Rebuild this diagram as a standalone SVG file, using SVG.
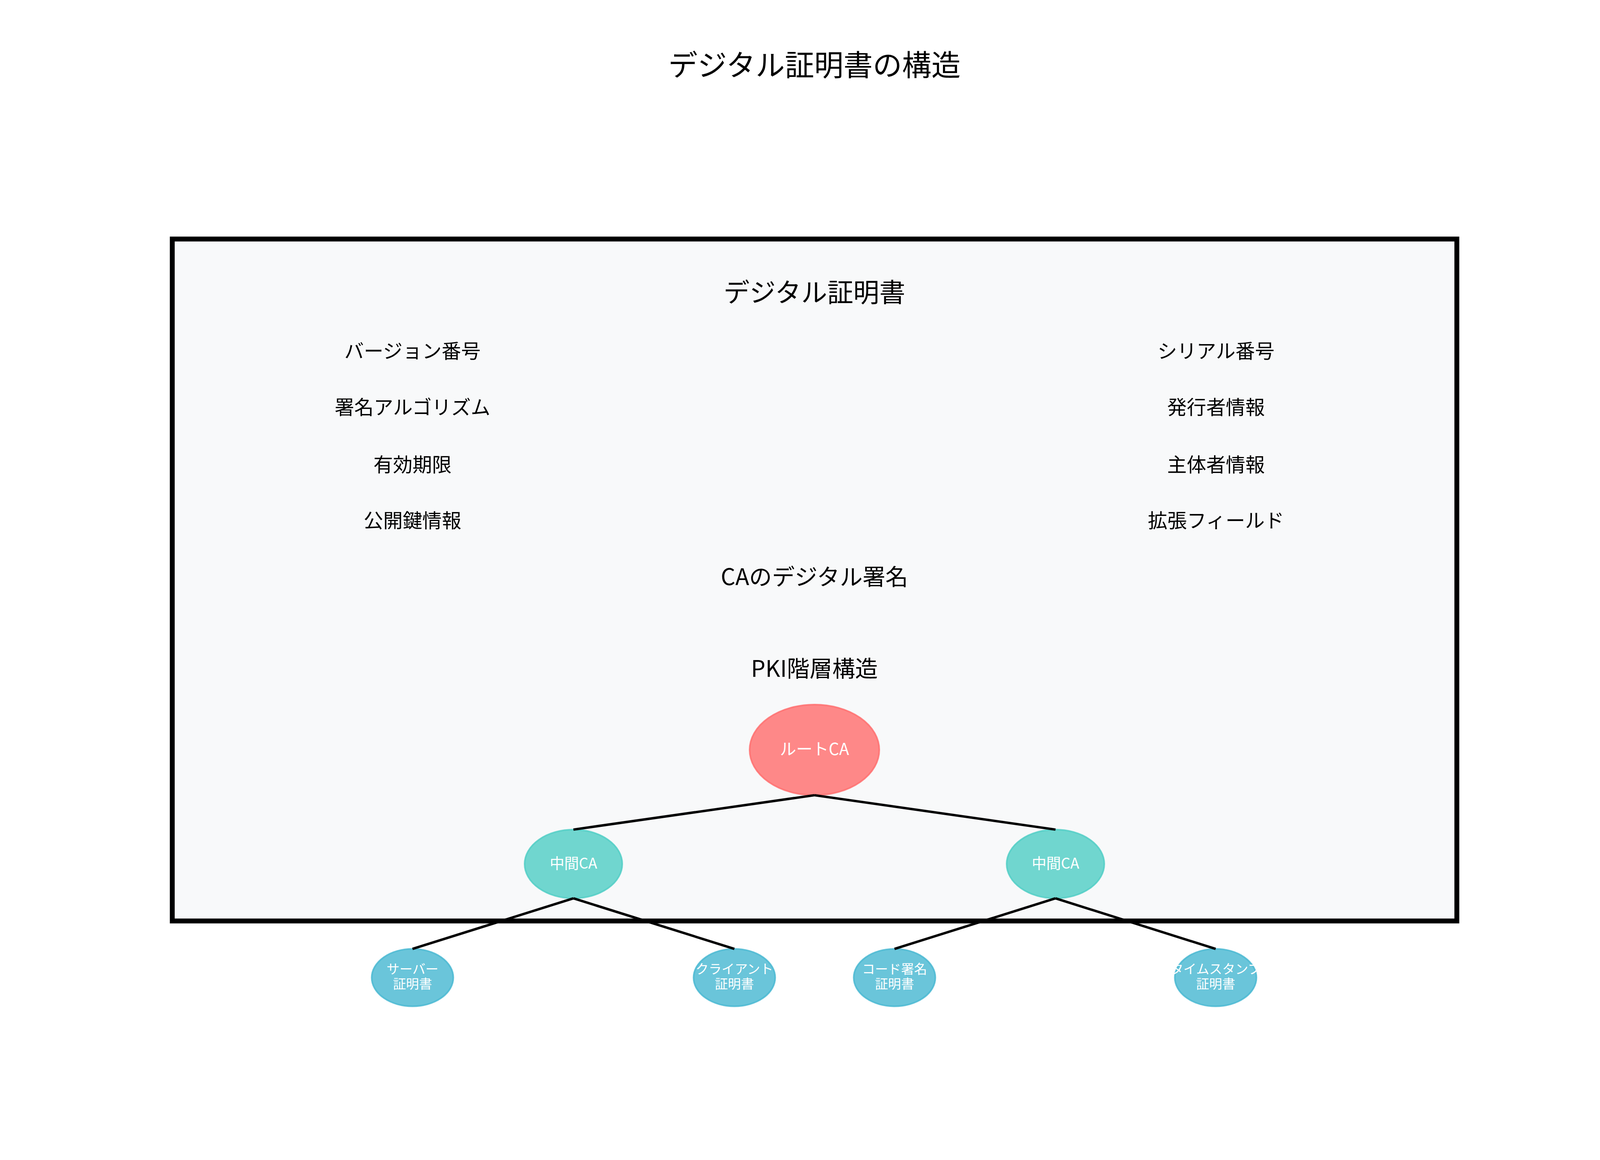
<svg xmlns="http://www.w3.org/2000/svg" width="4170" height="2970" viewBox="0 0 4170 2970">
<style>
text{font-family:"Noto Sans CJK JP","Noto Sans",sans-serif;text-anchor:middle;fill:#000}
.t18{font-size:75px}
.t16{font-size:66.7px}
.t14{font-size:58.3px}
.t12{font-size:50px}
.w10{font-size:41.7px;fill:#fff}
.w9{font-size:37.5px;fill:#fff}
.w8{font-size:33.3px;fill:#fff}
.root{fill:#FF6B6B;fill-opacity:0.8;stroke:#FF6B6B;stroke-opacity:0.8;stroke-width:4}
.mid{fill:#4ECDC4;fill-opacity:0.8;stroke:#4ECDC4;stroke-opacity:0.8;stroke-width:4}
.leaf{fill:#45B7D1;fill-opacity:0.8;stroke:#45B7D1;stroke-opacity:0.8;stroke-width:4}
.edge{stroke:#000;stroke-width:6.25;fill:none;stroke-linecap:butt}
</style>
<rect x="0" y="0" width="4170" height="2970" fill="#fff"/>
<g id="title"><text class="t18" x="2085" y="194">デジタル証明書の構造</text></g>
<g id="certificate">
<rect x="441" y="612" width="3288.5" height="1746" fill="#F8F9FA" stroke="#000" stroke-width="12.5"/>
<text class="t16" x="2085" y="773">デジタル証明書</text>
<text class="t12" x="1056" y="917">バージョン番号</text>
<text class="t12" x="1056" y="1061">署名アルゴリズム</text>
<text class="t12" x="1056" y="1208">有効期限</text>
<text class="t12" x="1056" y="1351">公開鍵情報</text>
<text class="t12" x="3113" y="917">シリアル番号</text>
<text class="t12" x="3113" y="1061">発行者情報</text>
<text class="t12" x="3113" y="1208">主体者情報</text>
<text class="t12" x="3113" y="1351">拡張フィールド</text>
<text class="t14" x="2085" y="1498">CAのデジタル署名</text>
<text class="t14" x="2085" y="1733">PKI階層構造</text>
</g>
<g id="root-ca"><ellipse class="root" cx="2085" cy="1920" rx="166" ry="116"/><text class="w10" x="2085" y="1933">ルートCA</text></g>
<g id="mid-ca-1"><ellipse class="mid" cx="1468" cy="2212" rx="125" ry="88"/><text class="w9" x="1468" y="2224">中間CA</text></g>
<g id="mid-ca-2"><ellipse class="mid" cx="2702" cy="2212" rx="125" ry="88"/><text class="w9" x="2702" y="2224">中間CA</text></g>
<g id="leaf-server"><ellipse class="leaf" cx="1056" cy="2503" rx="104.5" ry="73.5"/><text class="w8" x="1056" y="2493"><tspan x="1056">サーバー</tspan><tspan x="1056" dy="38">証明書</tspan></text></g>
<g id="leaf-client"><ellipse class="leaf" cx="1880" cy="2503" rx="104.5" ry="73.5"/><text class="w8" x="1880" y="2493"><tspan x="1880">クライアント</tspan><tspan x="1880" dy="38">証明書</tspan></text></g>
<g id="leaf-code"><ellipse class="leaf" cx="2290" cy="2503" rx="104.5" ry="73.5"/><text class="w8" x="2290" y="2493"><tspan x="2290">コード署名</tspan><tspan x="2290" dy="38">証明書</tspan></text></g>
<g id="leaf-timestamp"><ellipse class="leaf" cx="3112" cy="2503" rx="104.5" ry="73.5"/><text class="w8" x="3112" y="2493"><tspan x="3112">タイムスタンプ</tspan><tspan x="3112" dy="38">証明書</tspan></text></g>
<g id="connectors">
<line class="edge" x1="2085" y1="2036" x2="1468" y2="2124"/>
<line class="edge" x1="2085" y1="2036" x2="2702" y2="2124"/>
<line class="edge" x1="1468" y1="2300" x2="1056" y2="2429.5"/>
<line class="edge" x1="1468" y1="2300" x2="1880" y2="2429.5"/>
<line class="edge" x1="2702" y1="2300" x2="2290" y2="2429.5"/>
<line class="edge" x1="2702" y1="2300" x2="3112" y2="2429.5"/>
</g>
</svg>
